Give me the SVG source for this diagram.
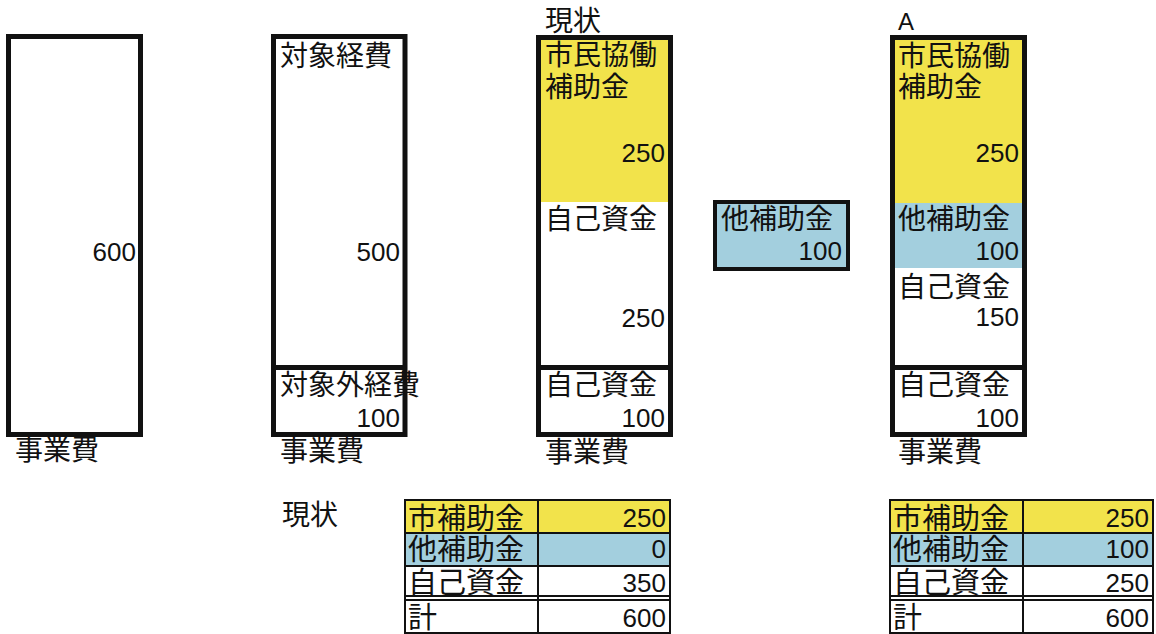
<svg xmlns="http://www.w3.org/2000/svg" width="1156" height="634" viewBox="0 0 1156 634">
<style>
text{font-family:"Liberation Sans","Noto Sans CJK JP",sans-serif;fill:#111;}
.j{font-size:28px;}
.jt{font-size:29px;}
.n{font-size:26px;text-anchor:end;}
.box{fill:none;stroke:#111;stroke-width:5;}
.tl{stroke:#111;stroke-width:2;fill:none;}
.y{fill:#f2e34b;}
.b{fill:#a3cfde;}
</style>
<rect width="1156" height="634" fill="#fff"/>

<g id="node-jigyohi">
<rect class="box" x="8.5" y="36.5" width="132" height="398"/>
<text class="n" x="136" y="261">600</text>
<text class="j" x="15" y="460">事業費</text>
</g>

<g id="node-taisho">
<rect class="box" x="273.5" y="36.5" width="131.5" height="398"/>
<line class="box" x1="273.5" y1="367.5" x2="405" y2="367.5"/>
<text class="j" x="280" y="66">対象経費</text>
<text class="n" x="400" y="261">500</text>
<text class="j" x="280" y="395">対象外経費</text>
<text class="n" x="400" y="427">100</text>
<text class="j" x="280" y="461">事業費</text>
</g>

<g id="node-genjo">
<text class="j" x="545" y="31">現状</text>
<rect class="y" x="541" y="40" width="127" height="162"/>
<rect class="box" x="538.5" y="37.5" width="132" height="397"/>
<line class="box" x1="538.5" y1="367.5" x2="670.5" y2="367.5"/>
<text class="j" x="545" y="65">市民協働</text>
<text class="j" x="545" y="97">補助金</text>
<text class="n" x="665" y="162">250</text>
<text class="j" x="545" y="229">自己資金</text>
<text class="n" x="665" y="327">250</text>
<text class="j" x="545" y="395">自己資金</text>
<text class="n" x="665" y="427">100</text>
<text class="j" x="545" y="462">事業費</text>
</g>

<g id="node-tahojokin">
<rect class="b" x="717" y="204" width="129" height="63"/>
<rect fill="none" stroke="#111" stroke-width="4" x="715" y="202" width="133" height="67"/>
<text class="j" x="721" y="229">他補助金</text>
<text class="n" x="842" y="260">100</text>
</g>

<g id="node-A">
<text style="font-size:24px" x="898" y="30">A</text>
<rect class="y" x="895" y="40" width="127" height="163"/>
<rect class="b" x="895" y="203" width="127" height="65"/>
<rect class="box" x="892.5" y="37.5" width="132" height="397"/>
<line class="box" x1="892.5" y1="367.5" x2="1024.5" y2="367.5"/>
<text class="j" x="898" y="66">市民協働</text>
<text class="j" x="898" y="97">補助金</text>
<text class="n" x="1019" y="162">250</text>
<text class="j" x="898" y="229">他補助金</text>
<text class="n" x="1019" y="260">100</text>
<text class="j" x="898" y="297">自己資金</text>
<text class="n" x="1019" y="326">150</text>
<text class="j" x="898" y="395">自己資金</text>
<text class="n" x="1019" y="427">100</text>
<text class="j" x="898" y="462">事業費</text>
</g>

<g id="node-table-genjo">
<text class="j" x="282" y="525">現状</text>
<rect class="y" x="405" y="500" width="265" height="33"/>
<rect class="b" x="405" y="533" width="265" height="33"/>
<rect class="tl" x="405" y="500" width="265" height="133"/>
<line class="tl" x1="405" y1="533" x2="670" y2="533"/>
<line class="tl" x1="405" y1="566" x2="670" y2="566"/>
<line class="tl" x1="405" y1="596" x2="670" y2="596"/>
<line class="tl" x1="405" y1="600" x2="670" y2="600"/>
<line class="tl" x1="538" y1="500" x2="538" y2="633"/>
<text class="jt" x="408" y="529">市補助金</text>
<text class="n" x="666" y="527">250</text>
<text class="jt" x="408" y="560">他補助金</text>
<text class="n" x="666" y="558">0</text>
<text class="jt" x="408" y="593">自己資金</text>
<text class="n" x="666" y="592">350</text>
<text class="jt" x="408" y="628">計</text>
<text class="n" x="666" y="627">600</text>
</g>

<g id="node-table-A">
<rect class="y" x="890" y="500" width="263" height="33"/>
<rect class="b" x="890" y="533" width="263" height="33"/>
<rect class="tl" x="890" y="500" width="263" height="133"/>
<line class="tl" x1="890" y1="533" x2="1153" y2="533"/>
<line class="tl" x1="890" y1="566" x2="1153" y2="566"/>
<line class="tl" x1="890" y1="596" x2="1153" y2="596"/>
<line class="tl" x1="890" y1="600" x2="1153" y2="600"/>
<line class="tl" x1="1023" y1="500" x2="1023" y2="633"/>
<text class="jt" x="893" y="529">市補助金</text>
<text class="n" x="1149" y="527">250</text>
<text class="jt" x="893" y="560">他補助金</text>
<text class="n" x="1149" y="558">100</text>
<text class="jt" x="893" y="593">自己資金</text>
<text class="n" x="1149" y="592">250</text>
<text class="jt" x="893" y="628">計</text>
<text class="n" x="1149" y="627">600</text>
</g>

<g id="connectors"></g>
</svg>
